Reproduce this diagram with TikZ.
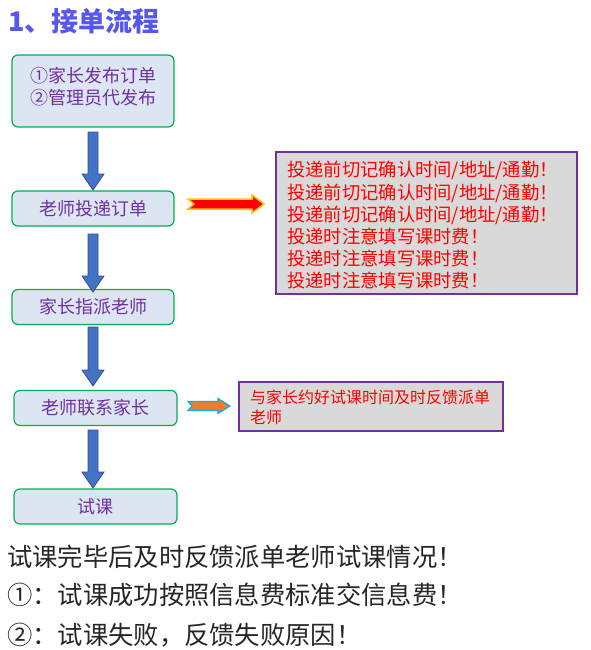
\documentclass[tikz,border=0pt]{standalone}
\usepackage{fontspec}
\setmainfont{Noto Sans CJK SC}
\usetikzlibrary{calc}
\definecolor{titleblue}{RGB}{87,87,240}
\definecolor{boxfill}{RGB}{220,230,242}
\definecolor{boxedge}{RGB}{0,176,80}
\definecolor{boxtext}{RGB}{112,48,160}
\definecolor{notefill}{RGB}{217,217,217}
\definecolor{noteedge}{RGB}{112,48,160}
\definecolor{arrowfill}{RGB}{68,114,196}
\definecolor{arrowedge}{RGB}{47,82,143}
\definecolor{darktext}{RGB}{38,38,38}
\definecolor{orangefill}{RGB}{237,125,49}
\definecolor{cyanedge}{RGB}{0,176,240}
\definecolor{goldedge}{RGB}{255,192,0}
\tikzset{
  flowbox/.style={draw=boxedge, line width=1.2pt, fill=boxfill, rounded corners=6pt,
    minimum width=162pt, minimum height=35pt, inner sep=0pt,
    text=boxtext, font=\fontsize{18}{22}\selectfont, text height=14.4pt, text depth=0.9pt},
  notebox/.style={draw=noteedge, line width=1.4pt, fill=notefill, inner sep=0pt},
  boxline/.style={anchor=base, inner sep=0pt, text=boxtext, font=\fontsize{18}{22}\selectfont},
  redline/.style={anchor=base west, inner sep=0pt, text=red, font=\fontsize{18.3}{22}\selectfont},
  smallred/.style={anchor=base west, inner sep=0pt, text=red, font=\fontsize{16}{20}\selectfont},
  bottomline/.style={anchor=base west, inner sep=0pt, text=darktext, font=\fontsize{25.3}{30}\selectfont},
  blk/.style={fill=arrowfill, draw=arrowedge, line width=0.8pt, line join=miter},
}
\newcommand{\vblk}[2]{\draw[blk] ($(#1)+(-5,0)$) -- ($(#1)+(5,0)$) -- ($(#2)+(5,-16)$) -- ($(#2)+(11,-16)$) -- (#2) -- ($(#2)+(-11,-16)$) -- ($(#2)+(-5,-16)$) -- cycle;}
% #1 tail, #2 tip, #3 half shaft, #4 half head, #5 head length, #6 notch, #7 style
\newcommand{\hblk}[7]{\draw[#7] (#1) ++(0,-#3) -- ($(#2)+(-#5,-#3)$) -- ($(#2)+(-#5,-#4)$) -- (#2) -- ($(#2)+(-#5,#4)$) -- ($(#2)+(-#5,#3)$) -- ($(#1)+(0,#3)$) -- ($(#1)+(#6,0)$) -- cycle;}
\begin{document}
\begin{tikzpicture}[x=1pt,y=-1pt]
\useasboundingbox (0,0) rectangle (590,650);
% title
\node[anchor=base west, inner sep=0pt, text=titleblue, font=\fontsize{27}{30}\selectfont\bfseries] (title) at (8,32) {1、接单流程};
% flow boxes
\node[flowbox, minimum height=72pt] (b1) at (93,91) {};
\node[boxline] (b1l1) at (93,82.8) {①家长发布订单};
\node[boxline] (b1l2) at (93,104.8) {②管理员代发布};
\node[flowbox] (b2) at (93,208.5) {老师投递订单};
\node[flowbox] (b3) at (93,307) {家长指派老师};
\node[flowbox, minimum width=163pt] (b4) at (95.5,408) {老师联系家长};
\node[flowbox, minimum width=163pt] (b5) at (95.5,506.5) {试课};
% down arrows
\coordinate (a1s) at (93,132); \coordinate (a1e) at (93,190);
\coordinate (a2s) at (93,234); \coordinate (a2e) at (93,292);
\coordinate (a3s) at (93,327); \coordinate (a3e) at (93,386);
\coordinate (a4s) at (93,430); \coordinate (a4e) at (93,488);
\vblk{a1s}{a1e}
\vblk{a2s}{a2e}
\vblk{a3s}{a3e}
\vblk{a4s}{a4e}
% note 1
\node[notebox, minimum width=301pt, minimum height=142pt] (n1) at (426.5,223) {};
\node[redline] (n1l1) at (287,176.8) {投递前切记确认时间/地址/通勤！};
\node[redline] (n1l2) at (287,199) {投递前切记确认时间/地址/通勤！};
\node[redline] (n1l3) at (287,221.2) {投递前切记确认时间/地址/通勤！};
\node[redline] (n1l4) at (287,243.4) {投递时注意填写课时费！};
\node[redline] (n1l5) at (287,265.6) {投递时注意填写课时费！};
\node[redline] (n1l6) at (287,287.8) {投递时注意填写课时费！};
% red arrow
\coordinate (r1s) at (188,204); \coordinate (r1e) at (264,204);
\hblk{r1s}{r1e}{5}{9}{12}{6}{fill=red, draw=goldedge, line width=1.5pt, line join=miter}
% note 2
\node[notebox, minimum width=264pt, minimum height=49pt] (n2) at (371,406.5) {};
\node[smallred] (n2l1) at (250,403) {与家长约好试课时间及时反馈派单};
\node[smallred] (n2l2) at (250,423) {老师};
% orange arrow
\coordinate (o1s) at (188,406); \coordinate (o1e) at (230,406);
\hblk{o1s}{o1e}{4.5}{7.5}{12}{4}{fill=orangefill, draw=cyanedge, line width=1.2pt, line join=miter}
% bottom text
\node[bottomline] (t1) at (7,566) {试课完毕后及时反馈派单老师试课情况！};
\node[bottomline] (t2) at (7,604) {①：试课成功按照信息费标准交信息费！};
\node[bottomline] (t3) at (7,644) {②：试课失败，反馈失败原因！};
\end{tikzpicture}
\end{document}
